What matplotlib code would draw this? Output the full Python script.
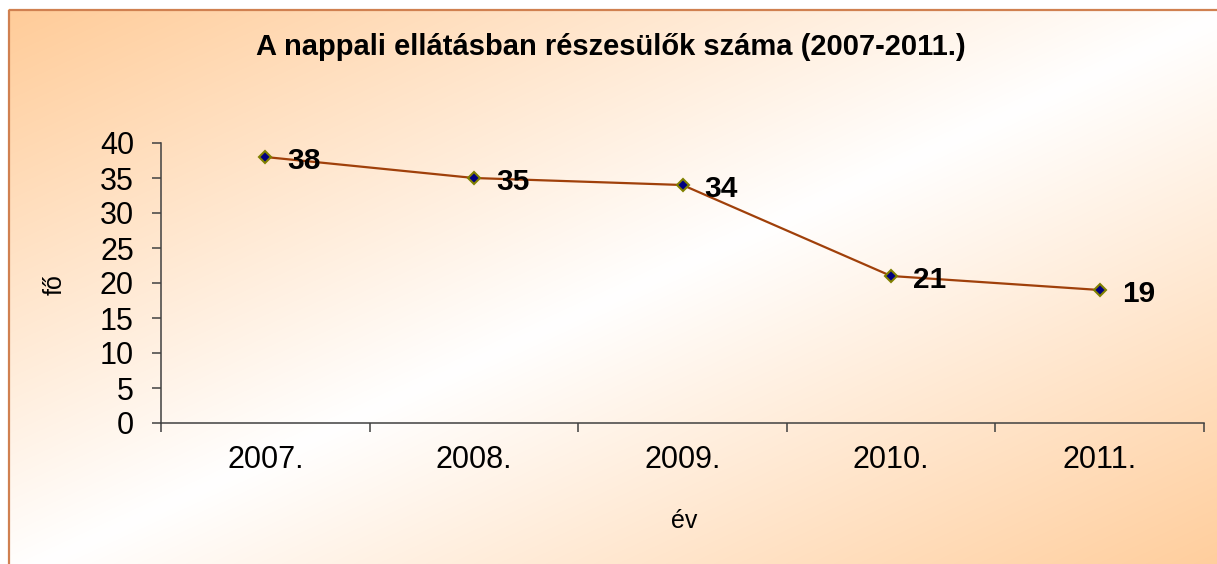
import numpy as np
import matplotlib
matplotlib.use("Agg")
import matplotlib.pyplot as plt
from matplotlib.colors import to_rgb

plt.rcParams['font.family'] = ['Liberation Sans', 'DejaVu Sans']

# ---- data ----
years = ['2007.', '2008.', '2009.', '2010.', '2011.']
values = [38, 35, 34, 21, 19]
y_ticks = [0, 5, 10, 15, 20, 25, 30, 35, 40]
title = 'A nappali ellátásban részesülők száma (2007-2011.)'
x_label = 'év'
y_label = 'fő'

W, H = 1217, 564
fig = plt.figure(figsize=(W / 100, H / 100), dpi=100)

# ---- background with diagonal gradient ----
bg = fig.add_axes([0, 0, 1, 1], zorder=0)
bg.set_xlim(0, W)
bg.set_ylim(H, 0)
bg.axis('off')
peach = np.array(to_rgb('#FFCC99'))
white = np.array([1.0, 1.0, 1.0])
nx, ny = 400, 200
u = np.linspace(0, 1, nx)[None, :]
v = np.linspace(0, 1, ny)[:, None]
t = (u + v) / 2.0
w = np.abs(t - 0.5) * 2  # 0 at centre diagonal, 1 at corners
img = white[None, None, :] * (1 - w[..., None]) + peach[None, None, :] * w[..., None]
x0, y0, x1, y1 = 8, 9, 1235, 580
bg.imshow(img, extent=(x0, x1, y1, y0), aspect='auto', interpolation='bilinear')
bg.plot([x0 + 0.5, x0 + 0.5], [y1, y0 + 0.5], color='#D08050', lw=1.6, solid_capstyle='butt')
bg.plot([x0 + 0.5, x1], [y0 + 0.5, y0 + 0.5], color='#D08050', lw=1.6, solid_capstyle='butt')

# ---- main axes ----
left, right, top, bottom = 161, 1204, 143, 423
ax = fig.add_axes([left / W, 1 - bottom / H, (right - left) / W, (bottom - top) / H], zorder=1)
ax.patch.set_alpha(0)
x = np.arange(len(years))
ax.plot(x, values, color='#A0400A', lw=1.6, marker='D', ms=6,
        mfc='#000080', mec='#808000', mew=1.5, zorder=3, clip_on=False)
for xi, val in zip(x, values):
    ax.annotate(str(val), (xi, val), xytext=(16, -3), textcoords='offset points',
                ha='left', va='center', fontsize=21.5, fontweight='bold', color='black')

ax.set_xlim(-0.5, len(years) - 0.5)
ax.set_ylim(0, 40)
for s in ['top', 'right']:
    ax.spines[s].set_visible(False)
for s in ['left', 'bottom']:
    ax.spines[s].set_color('#404040')
    ax.spines[s].set_linewidth(1.1)

ax.set_yticks(y_ticks)
ax.set_yticklabels([str(t) for t in y_ticks])
ax.tick_params(axis='y', direction='out', length=6.5, width=1.1, color='#404040',
               labelsize=22, pad=13)
ax.set_xticks(np.arange(-0.5, len(years), 1.0))
ax.set_xticklabels([])
ax.set_xticks(x, minor=True)
ax.set_xticklabels(years, minor=True)
ax.tick_params(axis='x', which='major', direction='out', length=6.5, width=1.1, color='#404040')
ax.tick_params(axis='x', which='minor', length=0, labelsize=22, pad=16)

# ---- texts ----
fig.text(610.5 / W, 1 - 55 / H, title, ha='center', va='baseline',
         fontsize=21, fontweight='bold')
fig.text(684 / W, 1 - 528 / H, x_label, ha='center', va='baseline', fontsize=18)
fig.text(55 / W, 1 - 285 / H, y_label, ha='center', va='center', rotation=90, fontsize=18)

fig.savefig('out.png', dpi=100)
